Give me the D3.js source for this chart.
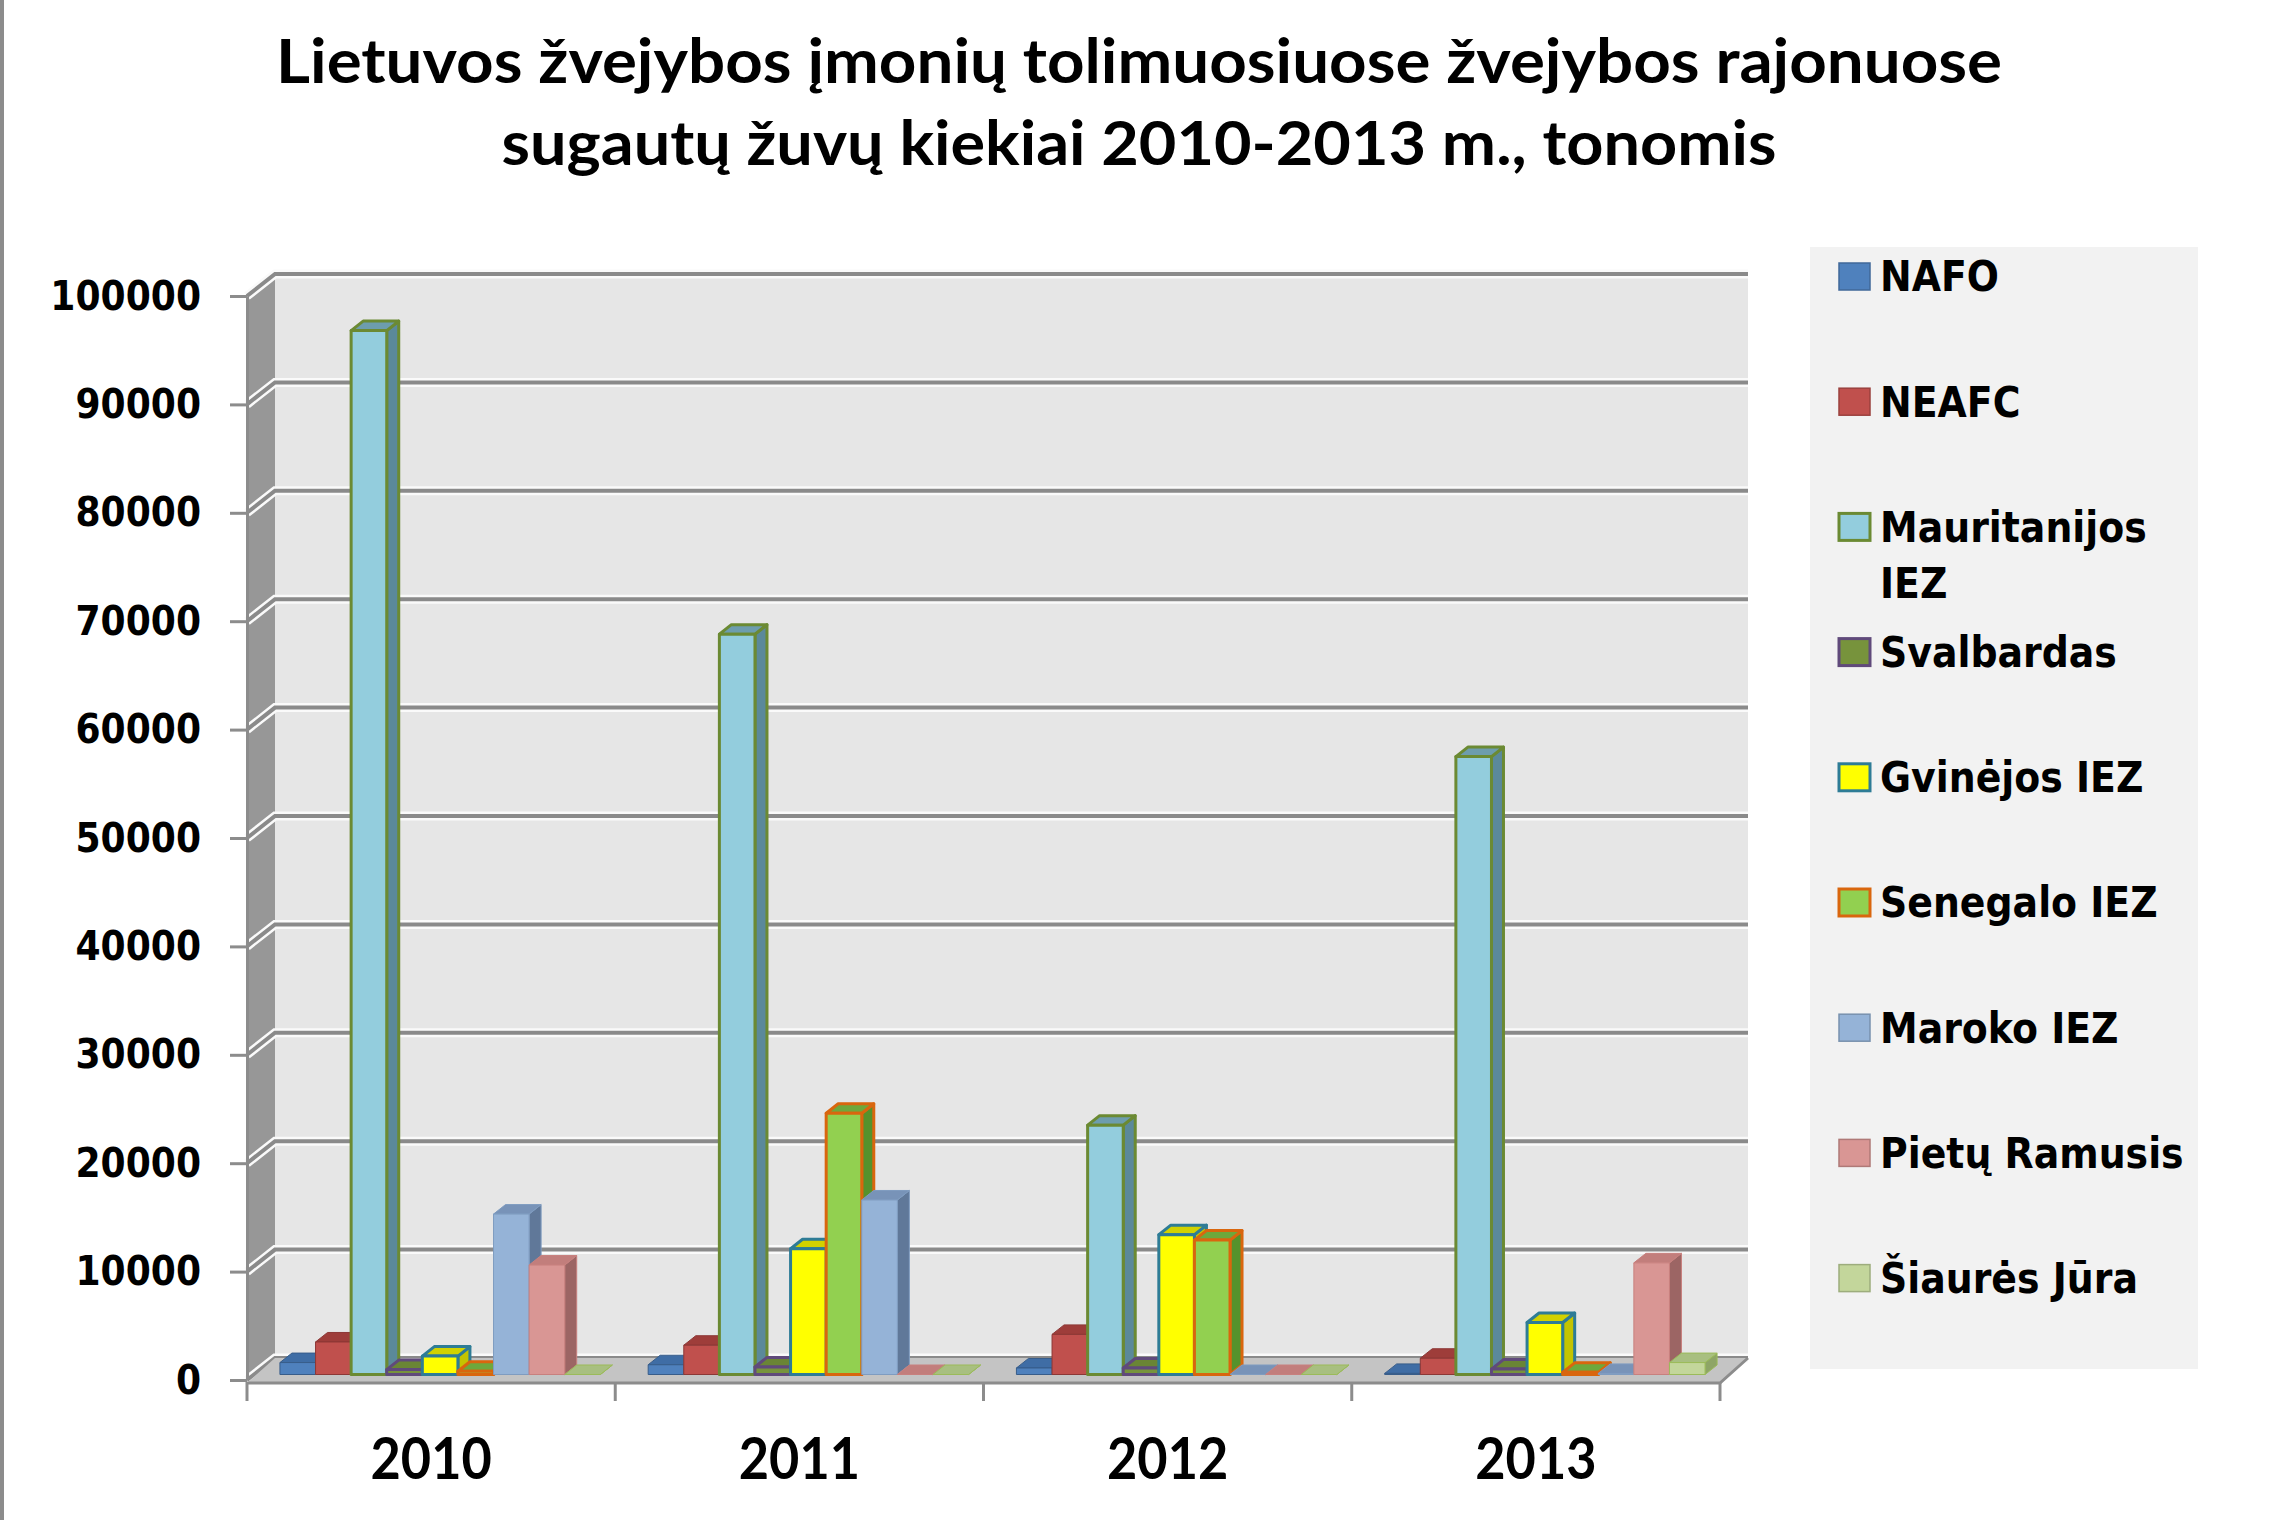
<!DOCTYPE html>
<html>
<head>
<meta charset="utf-8">
<script src="https://cdnjs.cloudflare.com/ajax/libs/d3/7.8.5/d3.min.js"></script>
<style>
body { margin: 0; background: #fff; }
</style>
</head>
<body>
<div id="chart"></div>
<script>
// data (tonnes)
var years = ["2010", "2011", "2012", "2013"];
var areas = ["NAFO", "NEAFC", "Mauritanijos IEZ", "Svalbardas", "Gvinėjos IEZ", "Senegalo IEZ", "Maroko IEZ", "Pietų Ramusis", "Šiaurės Jūra"];
var nafo = [1100, 900, 600, 100];
var neafc = [3000, 2700, 3700, 1500];
var mauritanija = [96300, 68300, 23000, 57000];
var svalbardas = [450, 700, 600, 500];
var gvineja = [1700, 11600, 12900, 4800];
var senegalas = [300, 24100, 12400, 200];
var marokas = [14800, 16100, 0, 100];
var pietuRamusis = [10100, 0, 0, 10300];
var siauresJura = [0, 0, 0, 1100];
var yTicks = [0, 10000, 20000, 30000, 40000, 50000, 60000, 70000, 80000, 90000, 100000];
var titleLines = ["Lietuvos žvejybos įmonių tolimuosiuose žvejybos rajonuose", "sugautų žuvų kiekiai 2010-2013 m., tonomis"];

var seriesValues = [nafo, neafc, mauritanija, svalbardas, gvineja, senegalas, marokas, pietuRamusis, siauresJura];

// front / top / side colours and outline of every series
var colours = [
    { front: "#4F81BD", top: "#3F6DA5", side: "#35598A", stroke: "#385D8A", sw: 1 },
    { front: "#C0504D", top: "#9E3D3A", side: "#8A3431", stroke: "#8C3836", sw: 1 },
    { front: "#93CDDD", top: "#6D9DAD", side: "#5B899A", stroke: "#6B8A33", sw: 3 },
    { front: "#77933C", top: "#6A8535", side: "#556B2A", stroke: "#604A7B", sw: 3 },
    { front: "#FFFF00", top: "#D2D200", side: "#C4C400", stroke: "#2E7C96", sw: 3 },
    { front: "#92D050", top: "#6EA83C", side: "#55922C", stroke: "#D9660E", sw: 3 },
    { front: "#95B3D7", top: "#7893B8", side: "#607899", stroke: "#7F9CC0", sw: 1 },
    { front: "#D99694", top: "#C27E7C", side: "#9C6564", stroke: "#C8807E", sw: 1 },
    { front: "#C3D69B", top: "#A8BF80", side: "#8EA566", stroke: "#9BBB59", sw: 1 }
];

var w = 2280;
var h = 1520;
var left = 247, right = 1720, yBottom = 1380, yTop = 296;
var dx = 28, dy = -22;          // depth of the whole box
var bdx = 9, bdy = -5.5;        // front plane of the bars
var ddx = 12, ddy = -9.5;       // depth of a bar

var svg = d3.select("#chart").append("svg").attr("width", w).attr("height", h)
    .style("font-family", "'DejaVu Sans', sans-serif");

svg.append("rect").attr("width", w).attr("height", h).attr("fill", "#fff");
svg.append("line").attr("x1", 2).attr("x2", 2).attr("y1", 0).attr("y2", h)
    .attr("stroke", "#8c8c8c").attr("stroke-width", 4);

var xScale = d3.scaleBand().domain(years).range([left, right]).paddingInner(0.13).paddingOuter(0.065);
var xInner = d3.scaleBand().domain(areas).range([0, xScale.bandwidth()]);
var yScale = d3.scaleLinear().domain([0, 100000]).range([yBottom, yTop]);

function pts(a) {
    return a.map(function(p) { return p[0] + "," + p[1]; }).join(" ");
}

// walls
svg.append("polygon")
    .attr("points", pts([[left, yTop], [left + dx, yTop + dy], [left + dx, yBottom + dy], [left, yBottom]]))
    .attr("fill", "#979797");
svg.append("rect")
    .attr("x", left + dx).attr("y", yTop + dy)
    .attr("width", right - left).attr("height", yBottom - yTop)
    .attr("fill", "#E6E6E6");

// gridlines on back and side wall
var grid = svg.append("g");
yTicks.forEach(function(t) {
    var y = yScale(t);
    var line = pts([[left, y], [left + dx, y + dy], [right + dx, y + dy]]);
    grid.append("polyline").attr("points", line).attr("fill", "none")
        .attr("stroke", "#fafafa").attr("stroke-width", 9);
    grid.append("polyline").attr("points", line).attr("fill", "none")
        .attr("stroke", "#8a8a8a").attr("stroke-width", 4);
});

// floor
svg.append("polygon")
    .attr("points", pts([[left, yBottom + 3], [right, yBottom + 3], [right + dx, yBottom + dy], [left + dx, yBottom + dy]]))
    .attr("fill", "#C4C4C4");

// bars
var bars = svg.append("g");
years.forEach(function(year, j) {
    areas.forEach(function(area, i) {
        var c = colours[i];
        var v = seriesValues[i][j];
        var x = xScale(year) + xInner(area) + bdx;
        var bw = xInner.bandwidth();
        var yb = yScale(0) + bdy;
        var yt = yScale(v) + bdy;
        var g = bars.append("g")
            .attr("stroke", c.stroke).attr("stroke-width", c.sw).attr("stroke-linejoin", "round");
        g.append("polygon")
            .attr("points", pts([[x + bw, yt], [x + bw + ddx, yt + ddy], [x + bw + ddx, yb + ddy], [x + bw, yb]]))
            .attr("fill", c.side);
        g.append("polygon")
            .attr("points", pts([[x, yt], [x + ddx, yt + ddy], [x + bw + ddx, yt + ddy], [x + bw, yt]]))
            .attr("fill", c.top);
        if (v > 0) {
            g.append("rect").attr("x", x).attr("y", yt).attr("width", bw).attr("height", yb - yt)
                .attr("fill", c.front);
        }
    });
});

// floor front edge and right edge
svg.append("polyline")
    .attr("points", pts([[left, yBottom + 3], [right, yBottom + 3], [right + dx, yBottom + dy]]))
    .attr("fill", "none").attr("stroke", "#8c8c8c").attr("stroke-width", 3);

// y axis
var yAxis = d3.axisLeft(yScale).tickValues(yTicks).tickSizeInner(17).tickSizeOuter(0).tickPadding(29)
    .tickFormat(d3.format("d"));
var gy = svg.append("g").attr("transform", "translate(" + left + ",0)").call(yAxis);
gy.select(".domain").attr("stroke", "#8c8c8c").attr("stroke-width", 3);
gy.selectAll(".tick line").attr("stroke", "#8c8c8c").attr("stroke-width", 3);
gy.selectAll(".tick text")
    .attr("fill", "#000")
    .style("font-family", "'DejaVu Sans', sans-serif")
    .style("font-weight", "bold")
    .style("font-size", "41px")
    .each(function() {
        var n = this.getComputedTextLength();
        d3.select(this).attr("textLength", n * 0.88).attr("lengthAdjust", "spacingAndGlyphs");
    });

// category boundaries
years.concat(["end"]).forEach(function(d, k) {
    var bx = left + k * xScale.step();
    svg.append("line").attr("x1", bx).attr("x2", bx).attr("y1", yBottom + 2).attr("y2", yBottom + 21)
        .attr("stroke", "#8c8c8c").attr("stroke-width", 3);
});

// x axis labels
var xAxis = d3.axisBottom(xScale).tickSize(0).tickPadding(55);
var gx = svg.append("g").attr("transform", "translate(0," + (yBottom + 3) + ")").call(xAxis);
gx.select(".domain").remove();
gx.selectAll(".tick text")
    .attr("fill", "#000")
    .style("font-family", "Lato, sans-serif")
    .style("font-weight", "bold")
    .style("font-size", "58px")
    .each(function() {
        var n = this.getComputedTextLength();
        d3.select(this).attr("textLength", n * 0.9).attr("lengthAdjust", "spacingAndGlyphs");
    });

// title
var titleWidths = [1726, 1275];
titleLines.forEach(function(t, k) {
    svg.append("text")
        .attr("x", 1139).attr("y", 83 + k * 82)
        .attr("text-anchor", "middle")
        .attr("textLength", titleWidths[k]).attr("lengthAdjust", "spacingAndGlyphs")
        .style("font-family", "Lato, sans-serif")
        .style("font-weight", "bold")
        .style("font-size", "62px")
        .text(t);
});

// legend
var legend = svg.append("g");
legend.append("rect").attr("x", 1810).attr("y", 247).attr("width", 388).attr("height", 1122)
    .attr("fill", "#F2F2F2");
var squeeze = 0.88;
areas.forEach(function(area, i) {
    var c = colours[i];
    var cy = 276 + i * 125.2;
    legend.append("rect")
        .attr("x", 1839).attr("y", cy - 13).attr("width", 31).attr("height", 27)
        .attr("fill", c.front)
        .attr("stroke", c.sw > 1 ? c.stroke : d3.color(c.front).darker(0.6))
        .attr("stroke-width", c.sw > 1 ? 3 : 1.5);
    var label = legend.append("text")
        .attr("x", 1880).attr("y", cy).attr("dy", "0.36em")
        .style("font-family", "'DejaVu Sans', sans-serif")
        .style("font-weight", "bold")
        .style("font-size", "43px")
        .text(area);
    var n = label.node().getComputedTextLength();
    if (n > 365) {
        // wrap onto a second line the way the legend does
        var words = area.split(" ");
        var last = words.pop();
        label.text(words.join(" "));
        var n1 = label.node().getComputedTextLength();
        label.attr("textLength", n1 * squeeze).attr("lengthAdjust", "spacingAndGlyphs");
        var second = legend.append("text")
            .attr("x", 1880).attr("y", cy + 56).attr("dy", "0.36em")
            .style("font-family", "'DejaVu Sans', sans-serif")
            .style("font-weight", "bold")
            .style("font-size", "43px")
            .text(last);
        second.attr("textLength", second.node().getComputedTextLength() * squeeze).attr("lengthAdjust", "spacingAndGlyphs");
    } else {
        label.attr("textLength", n * squeeze).attr("lengthAdjust", "spacingAndGlyphs");
    }
});
</script>
</body>
</html>
